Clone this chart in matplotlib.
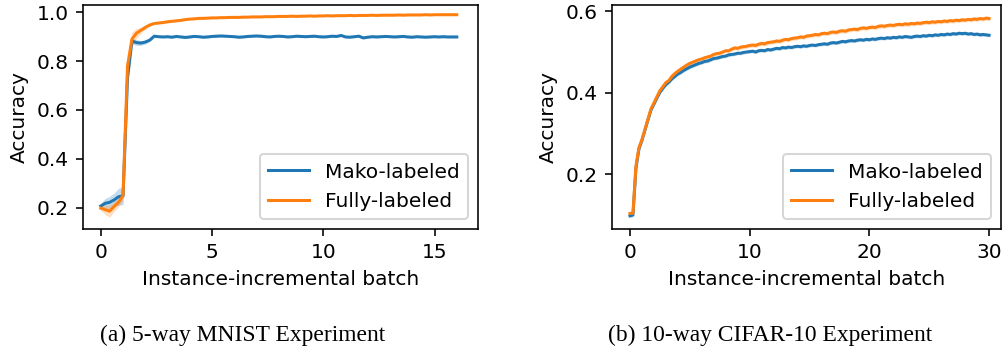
import matplotlib
matplotlib.use("Agg")
import matplotlib.pyplot as plt
import numpy as np

# ---- 5-way MNIST ----
mnist_x = [round(0.2 * i, 1) for i in range(81)]
mnist_mako = [
    0.207, 0.218, 0.222, 0.232, 0.245,
    0.248, 0.730, 0.882, 0.876, 0.874,
    0.878, 0.886, 0.902, 0.900, 0.899,
    0.900, 0.898, 0.901, 0.899, 0.897,
    0.899, 0.901, 0.900, 0.898, 0.899,
    0.901,
    0.902, 0.903, 0.902, 0.901, 0.900,
    0.898, 0.899, 0.901, 0.902, 0.903,
    0.902, 0.900, 0.899, 0.901, 0.902,
    0.901, 0.899, 0.900, 0.902, 0.901,
    0.900, 0.901, 0.902, 0.900, 0.899,
    0.900, 0.902, 0.901, 0.905, 0.899,
    0.898, 0.900, 0.902, 0.895, 0.898,
    0.900, 0.899, 0.900, 0.901, 0.900,
    0.899, 0.900, 0.901, 0.899, 0.898,
    0.900, 0.899, 0.898, 0.899, 0.900,
    0.899, 0.900, 0.899, 0.899, 0.899,
]
mnist_full = [
    0.198, 0.192, 0.186, 0.205, 0.222,
    0.250, 0.780, 0.890, 0.914, 0.926,
    0.938, 0.948, 0.954, 0.956, 0.958,
    0.961, 0.963, 0.965, 0.967, 0.970,
    0.972, 0.973, 0.975, 0.975, 0.976,
    0.977,
    0.977, 0.978, 0.978, 0.979, 0.979,
    0.979, 0.980, 0.980, 0.981, 0.981,
    0.981, 0.982, 0.982, 0.982, 0.983,
    0.983, 0.983, 0.984, 0.983, 0.984,
    0.984, 0.985, 0.984, 0.985, 0.985,
    0.986, 0.985, 0.986, 0.986, 0.986,
    0.987, 0.986, 0.987, 0.987, 0.987,
    0.988, 0.987, 0.988, 0.988, 0.988,
    0.988, 0.989, 0.988, 0.989, 0.989,
    0.989, 0.989, 0.990, 0.989, 0.990,
    0.990, 0.990, 0.990, 0.990, 0.990,
]
mnist_mako_std = [0.012, 0.020, 0.025, 0.028, 0.035, 0.035, 0.030,
                  0.012, 0.012, 0.010, 0.008, 0.006] + [0.004] * 69
mnist_full_std = [0.010, 0.020, 0.025, 0.020, 0.018, 0.020, 0.040,
                  0.030, 0.020, 0.012, 0.008, 0.006] + [0.003] * 69

# ---- 10-way CIFAR-10 ----
cifar_x = [0.25 * i for i in range(121)]
cifar_mako = [
    0.098, 0.100, 0.215, 0.262, 0.283, 0.308, 0.333, 0.357,
    0.372, 0.387, 0.401, 0.411, 0.420, 0.426, 0.434, 0.440,
    0.446, 0.450, 0.455, 0.459, 0.463, 0.466, 0.469, 0.472,
    0.474, 0.477, 0.478, 0.481, 0.484, 0.485, 0.487, 0.489,
    0.490, 0.493, 0.494, 0.495, 0.497, 0.497, 0.499, 0.500,
    0.501,
    0.502, 0.500, 0.503, 0.504,
    0.503, 0.506, 0.505, 0.507,
    0.509, 0.508, 0.511, 0.510,
    0.512, 0.511, 0.513, 0.514,
    0.513, 0.515, 0.514, 0.516,
    0.517, 0.516, 0.518, 0.519,
    0.520, 0.519, 0.522, 0.523,
    0.522, 0.524, 0.526, 0.525,
    0.527, 0.528, 0.527, 0.529,
    0.530, 0.529, 0.531, 0.530,
    0.532, 0.531, 0.533, 0.534,
    0.533, 0.535, 0.534, 0.536,
    0.535, 0.537, 0.536, 0.538,
    0.537, 0.536, 0.538, 0.539,
    0.538, 0.540, 0.539, 0.541,
    0.540, 0.542, 0.541, 0.543,
    0.542, 0.544, 0.543, 0.545,
    0.544, 0.546, 0.545, 0.546,
    0.544, 0.545, 0.543, 0.544,
    0.542, 0.543, 0.542, 0.541,
]
cifar_full = [
    0.104, 0.104, 0.220, 0.265, 0.285, 0.310, 0.335, 0.360,
    0.375, 0.390, 0.405, 0.415, 0.425, 0.430, 0.440, 0.447,
    0.453, 0.458, 0.463, 0.468, 0.472, 0.475, 0.478, 0.481,
    0.483, 0.486, 0.488, 0.490, 0.494, 0.496, 0.497, 0.500,
    0.503, 0.503, 0.507, 0.510, 0.509, 0.512, 0.513, 0.514,
    0.516,
    0.517, 0.516, 0.519, 0.521,
    0.520, 0.523, 0.524, 0.525,
    0.527, 0.526, 0.529, 0.531,
    0.530, 0.533, 0.534, 0.535,
    0.537, 0.536, 0.539, 0.540,
    0.541, 0.543, 0.542, 0.545,
    0.546, 0.545, 0.548, 0.549,
    0.548, 0.551, 0.552, 0.551,
    0.554, 0.555, 0.556, 0.555,
    0.558, 0.559, 0.558, 0.560,
    0.561, 0.560, 0.563, 0.564,
    0.563, 0.565, 0.566, 0.565,
    0.567, 0.568, 0.567, 0.569,
    0.568, 0.570, 0.569, 0.571,
    0.570, 0.572, 0.573, 0.572,
    0.574, 0.573, 0.575, 0.574,
    0.576, 0.575, 0.577, 0.576,
    0.578, 0.577, 0.579, 0.578,
    0.580, 0.579, 0.581, 0.580,
    0.582, 0.581, 0.583, 0.582,
]
cifar_mako_std = 0.004
cifar_full_std = 0.005

# everything drawn at default sizes, rendered at 145 dpi (scaled-up look)
DPI = 145
W, H = 1006, 349

fig = plt.figure(figsize=(W / DPI, H / DPI), dpi=DPI)
ax1 = fig.add_axes([83 / W, 120.3 / H, 394.7 / W, 224 / H])
ax2 = fig.add_axes([612 / W, 120.3 / H, 388.7 / W, 224 / H])


def draw(ax, x, mako, full, mako_std, full_std):
    x = np.array(x)
    mako = np.array(mako)
    full = np.array(full)
    ax.plot(x, mako, color="tab:blue", label="Mako-labeled")
    ax.fill_between(x, mako - mako_std, mako + mako_std, color="tab:blue", alpha=0.25, lw=0)
    ax.plot(x, full, color="tab:orange", label="Fully-labeled")
    ax.fill_between(x, full - full_std, full + full_std, color="tab:orange", alpha=0.25, lw=0)
    ax.set_xlabel("Instance-incremental batch")
    ax.set_ylabel("Accuracy")
    ax.legend(loc="lower right")


draw(ax1, mnist_x, mnist_mako, mnist_full, np.array(mnist_mako_std), np.array(mnist_full_std))
ax1.set_xlim(-0.8, 16.94)
ax1.set_ylim(0.114, 1.031)
ax1.set_xticks([0, 5, 10, 15])
ax1.set_yticks([0.2, 0.4, 0.6, 0.8, 1.0])

draw(ax2, cifar_x, cifar_mako, cifar_full, cifar_mako_std, cifar_full_std)
ax2.set_xlim(-1.5, 30.97)
ax2.set_ylim(0.0665, 0.616)
ax2.set_xticks([0, 10, 20, 30])
ax2.set_yticks([0.2, 0.4, 0.6])

fig.text(100 / W, 1 - 340.5 / H, "(a) 5-way MNIST Experiment",
         family="Liberation Serif", fontsize=11.7, ha="left", va="baseline")
fig.text(608 / W, 1 - 340.5 / H, "(b) 10-way CIFAR-10 Experiment",
         family="Liberation Serif", fontsize=11.7, ha="left", va="baseline")

fig.savefig("out.png", dpi=DPI)
